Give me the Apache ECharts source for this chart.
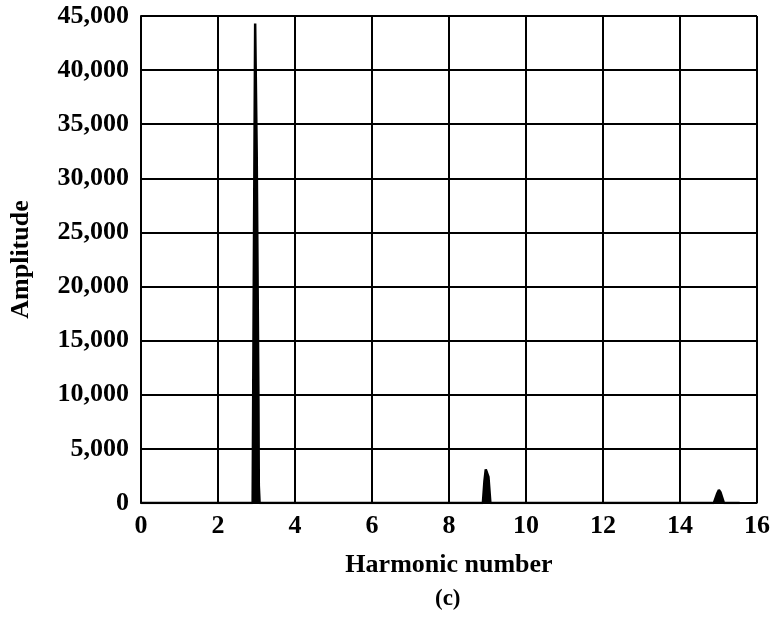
<!DOCTYPE html>
<html>
<head>
<meta charset="utf-8">
<script src="https://cdn.jsdelivr.net/npm/echarts@6/dist/echarts.min.js"></script>
<style>
  html, body { margin: 0; padding: 0; background: #fff; }
  #chart { width: 775px; height: 617px; }
</style>
</head>
<body>
<div id="chart"></div>
<script>
// Harmonic spectrum: amplitude against harmonic number
const harmonicNumber = [
  0, 2.90, 2.925, 2.925, 2.965, 2.965, 3.005, 3.005, 3.05, 3.05, 3.06, 3.06, 3.08, 3.08,
  8.88, 8.92, 8.955, 8.99, 9.025, 9.075,
  14.88, 14.97, 15.01, 15.05, 15.14, 15.55
];
const amplitude = [
  0, 0, 0, 17400, 17400, 44300, 44300, 32400, 32400, 9600, 9600, 1600, 1600, 0,
  0, 2000, 3100, 3150, 2400, 0,
  0, 900, 1200, 1000, 0, 0
];
const xTicks = { min: 0, max: 16, step: 2 };
const yTicks = { min: 0, max: 45000, step: 5000 };

const font = 'Liberation Serif';
const chart = echarts.init(document.getElementById('chart'));
chart.setOption({
  animation: false,
  backgroundColor: '#fff',
  grid: { left: 140, right: 18, top: 16, bottom: 114 },
  xAxis: {
    type: 'value',
    min: xTicks.min, max: xTicks.max, interval: xTicks.step,
    name: 'Harmonic number',
    nameLocation: 'middle',
    nameGap: 49,
    nameTextStyle: { fontFamily: font, fontWeight: 'bold', fontSize: 26, color: '#000' },
    axisLine: { show: true, lineStyle: { color: '#000', width: 1.5 } },
    axisTick: { show: false },
    axisLabel: { fontFamily: font, fontWeight: 'bold', fontSize: 26, color: '#000', margin: 10 },
    splitLine: { show: true, lineStyle: { color: '#000', width: 2 } }
  },
  yAxis: {
    type: 'value',
    min: yTicks.min, max: yTicks.max, interval: yTicks.step,
    name: 'Amplitude',
    nameLocation: 'middle',
    nameRotate: 90,
    nameGap: 107,
    nameTextStyle: { fontFamily: font, fontWeight: 'bold', fontSize: 26, color: '#000' },
    axisLine: { show: true, lineStyle: { color: '#000', width: 2 } },
    axisTick: { show: false },
    axisLabel: {
      fontFamily: font, fontWeight: 'bold', fontSize: 26, color: '#000', margin: 12,
      formatter: v => v.toLocaleString('en-US')
    },
    splitLine: { show: true, lineStyle: { color: '#000', width: 2 } }
  },
  series: [{
    type: 'line',
    data: harmonicNumber.map((h, i) => [h, amplitude[i]]),
    showSymbol: false,
    lineStyle: { color: '#000', width: 2.5 },
    areaStyle: { color: '#000', opacity: 1 },
    z: 5
  }],
  graphic: [{
    type: 'text',
    left: 435, top: 588,
    style: { text: '(c)', fontFamily: font, fontWeight: 'bold', fontSize: 23, fill: '#000' }
  }]
});
</script>
</body>
</html>
